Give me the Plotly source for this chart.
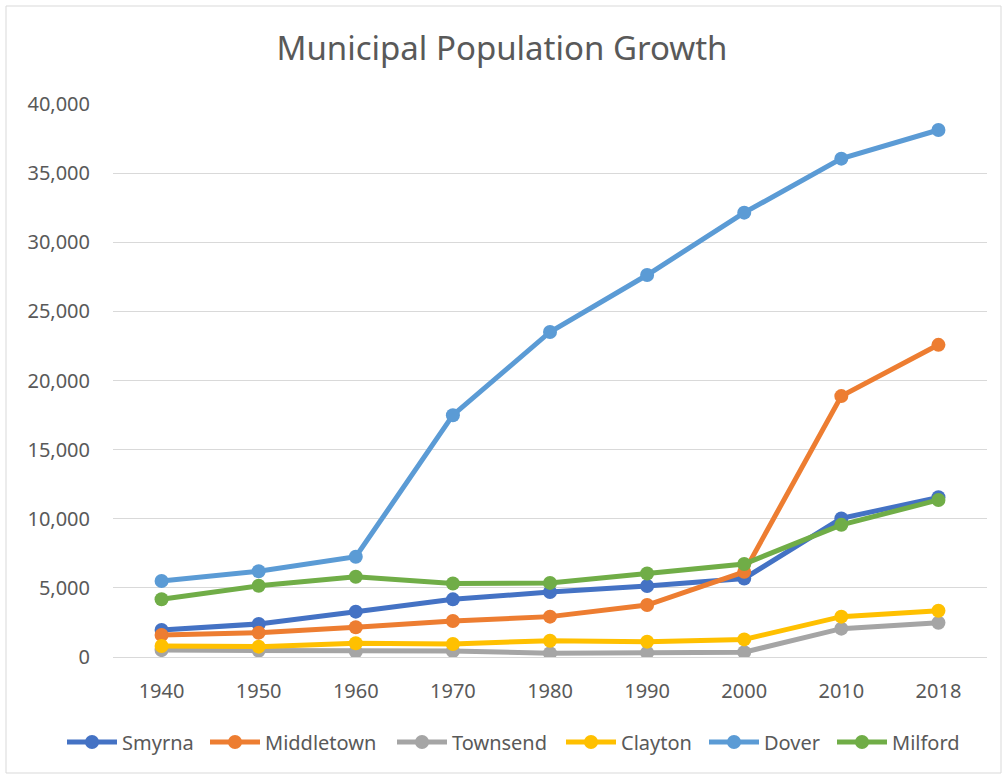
import plotly.graph_objects as go

years = ["1940", "1950", "1960", "1970", "1980", "1990", "2000", "2010", "2018"]
smyrna = [1950, 2390, 3280, 4170, 4700, 5140, 5680, 10023, 11550]
middletown = [1590, 1760, 2150, 2600, 2920, 3760, 6160, 18871, 22580]
townsend = [500, 470, 390, 430, 270, 310, 346, 2049, 2480]
clayton = [800, 750, 990, 940, 1180, 1110, 1273, 2918, 3350]
dover = [5500, 6200, 7250, 17490, 23510, 27630, 32140, 36047, 38120]
milford = [4180, 5150, 5800, 5320, 5360, 6040, 6730, 9559, 11360]

names = ["Smyrna", "Middletown", "Townsend", "Clayton", "Dover", "Milford"]
values = [smyrna, middletown, townsend, clayton, dover, milford]
colors = ["#4472C4", "#ED7D31", "#A5A5A5", "#FFC000", "#5B9BD5", "#70AD47"]
legend_widths = [78, 122, 104, 78, 63, 70]

fig = go.Figure()
for name, vals, col, lw in zip(names, values, colors, legend_widths):
    fig.add_trace(go.Scatter(
        x=years, y=vals, name=name, mode="lines+markers",
        line=dict(color=col, width=5),
        marker=dict(color=col, size=14),
        legendwidth=lw,
    ))

font = "Noto Sans"
W, H = 1004, 776
L, T, R = 113, 104, 17
PH = 553
B = H - T - PH
PW = W - L - R


def px(xp):
    return (xp - L) / PW


def py(yp):
    return (T + PH - yp) / PH


fig.update_layout(
    width=W, height=H,
    margin=dict(l=L, r=R, t=T, b=B, autoexpand=False),
    paper_bgcolor="white", plot_bgcolor="white",
    title=dict(text="Municipal Population Growth", x=0.5, xanchor="center",
               y=1 - 48 / H, yanchor="middle",
               font=dict(family=font, size=33, color="#595959")),
    xaxis=dict(type="category", showgrid=False, zeroline=False,
               showline=True, linecolor="#D9D9D9", linewidth=1,
               ticks="", tickfont=dict(family=font, size=20, color="#595959"),
               ticklabelstandoff=16, range=[-0.5, 8.5], automargin=False),
    yaxis=dict(range=[0, 40000], dtick=5000, tickformat=",d",
               showgrid=True, gridcolor="#D9D9D9", gridwidth=1,
               zeroline=False, showline=False, ticks="",
               tickfont=dict(family=font, size=20, color="#595959"),
               ticklabelstandoff=22, automargin=False),
    legend=dict(orientation="h", x=px(62), xanchor="left", y=py(742), yanchor="middle",
                font=dict(family=font, size=20, color="#595959"),
                itemwidth=50, tracegroupgap=0, itemclick=False),
    shapes=[dict(type="rect", xref="paper", yref="paper",
                 x0=px(6), x1=px(1001),
                 y0=py(773), y1=py(6),
                 line=dict(color="#D9D9D9", width=1), fillcolor="rgba(0,0,0,0)",
                 layer="below")],
    showlegend=True,
)

fig.write_html("out.html", config={"displayModeBar": False},
               post_script="document.body.style.margin='0';")
